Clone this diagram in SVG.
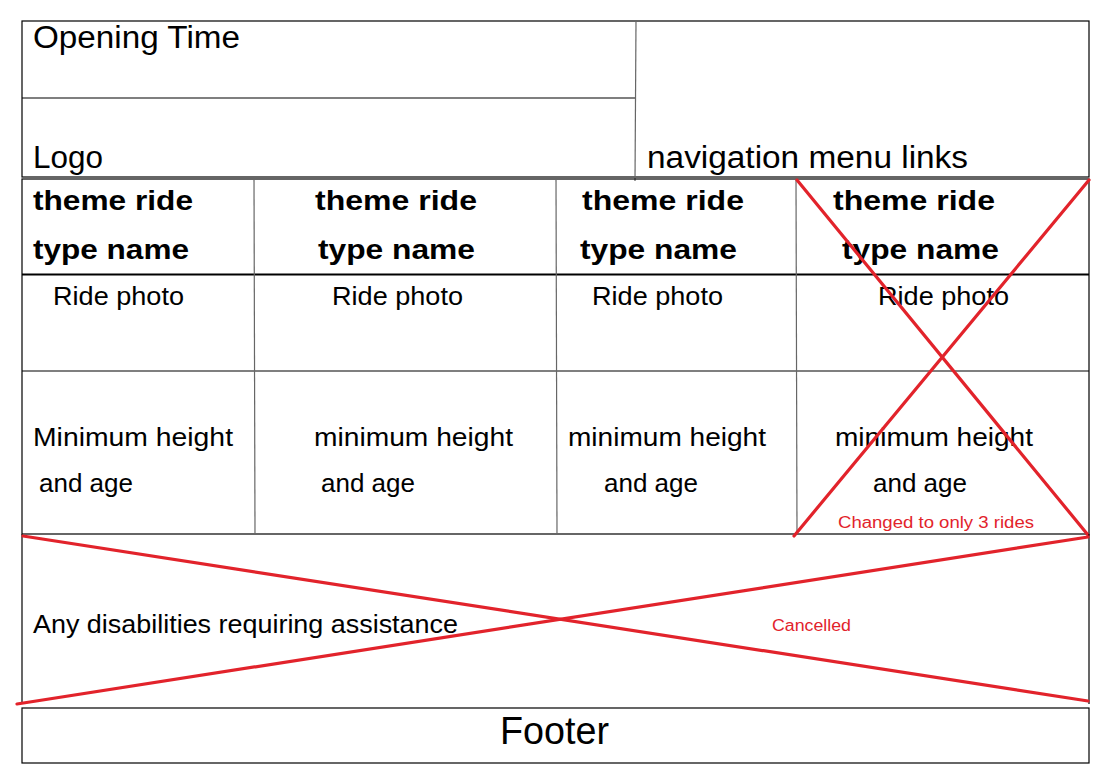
<svg xmlns="http://www.w3.org/2000/svg" width="1109" height="777" viewBox="0 0 1109 777">
<style>
.ln{stroke:#000;stroke-width:1.2;fill:none}
.gl{stroke:#666;stroke-width:1.2;fill:none}
.th{stroke:#000;stroke-width:2.2;fill:none}
.rx{stroke:#e2232b;stroke-width:3.2;fill:none;stroke-linecap:round}
text{font-family:"Liberation Sans",Arial,sans-serif;fill:#000}
.hd{font-size:31px}
.b{font-size:28px;font-weight:bold}
.m{font-size:25px}
.red{font-size:16px;fill:#e2232b}
</style>
<rect width="1109" height="777" fill="#fff"/>
<g id="header">
<rect class="ln" x="22" y="21" width="1067" height="156"/>
<line class="ln" x1="22" y1="98" x2="636" y2="98"/>
<line class="gl" x1="636" y1="21" x2="635" y2="181"/>
<text class="hd" x="33" y="48" textLength="207" lengthAdjust="spacingAndGlyphs">Opening Time</text>
<text class="hd" x="33" y="168" textLength="70" lengthAdjust="spacingAndGlyphs">Logo</text>
<text class="hd" x="647" y="168" textLength="321" lengthAdjust="spacingAndGlyphs">navigation menu links</text>
</g>
<g id="rides">
<rect class="ln" x="22" y="179" width="1067" height="355"/>
<line class="th" x1="22" y1="274.5" x2="1089" y2="274.5"/>
<line class="ln" x1="22" y1="371" x2="1089" y2="371"/>
<line class="gl" x1="254" y1="179" x2="255" y2="534"/>
<line class="gl" x1="556" y1="179" x2="557" y2="534"/>
<line class="gl" x1="796" y1="179" x2="797" y2="534"/>
<text class="b" x="33" y="210" textLength="160" lengthAdjust="spacingAndGlyphs">theme ride</text>
<text class="b" x="33" y="259" textLength="156" lengthAdjust="spacingAndGlyphs">type name</text>
<text class="b" x="315" y="210" textLength="162" lengthAdjust="spacingAndGlyphs">theme ride</text>
<text class="b" x="318" y="259" textLength="157" lengthAdjust="spacingAndGlyphs">type name</text>
<text class="b" x="582" y="210" textLength="162" lengthAdjust="spacingAndGlyphs">theme ride</text>
<text class="b" x="580" y="259" textLength="157" lengthAdjust="spacingAndGlyphs">type name</text>
<text class="b" x="833" y="210" textLength="162" lengthAdjust="spacingAndGlyphs">theme ride</text>
<text class="b" x="842" y="259" textLength="157" lengthAdjust="spacingAndGlyphs">type name</text>
<text class="m" x="53" y="305" textLength="131" lengthAdjust="spacingAndGlyphs">Ride photo</text>
<text class="m" x="332" y="305" textLength="131" lengthAdjust="spacingAndGlyphs">Ride photo</text>
<text class="m" x="592" y="305" textLength="131" lengthAdjust="spacingAndGlyphs">Ride photo</text>
<text class="m" x="878" y="305" textLength="131" lengthAdjust="spacingAndGlyphs">Ride photo</text>
<text class="m" x="33" y="446" textLength="200" lengthAdjust="spacingAndGlyphs">Minimum height</text>
<text class="m" x="39" y="492" textLength="94" lengthAdjust="spacingAndGlyphs">and age</text>
<text class="m" x="314" y="446" textLength="199" lengthAdjust="spacingAndGlyphs">minimum height</text>
<text class="m" x="321" y="492" textLength="94" lengthAdjust="spacingAndGlyphs">and age</text>
<text class="m" x="568" y="446" textLength="198" lengthAdjust="spacingAndGlyphs">minimum height</text>
<text class="m" x="604" y="492" textLength="94" lengthAdjust="spacingAndGlyphs">and age</text>
<text class="m" x="835" y="446" textLength="198" lengthAdjust="spacingAndGlyphs">minimum height</text>
<text class="m" x="873" y="492" textLength="94" lengthAdjust="spacingAndGlyphs">and age</text>
<line class="rx" x1="797" y1="180" x2="1088" y2="535"/>
<line class="rx" x1="1089" y1="180" x2="794" y2="536"/>
<text class="red" x="838" y="528" textLength="196" lengthAdjust="spacingAndGlyphs">Changed to only 3 rides</text>
</g>
<g id="disabilities">
<line class="ln" x1="22" y1="534" x2="22" y2="704"/>
<line class="ln" x1="1089" y1="534" x2="1089" y2="704"/>
<text class="m" x="33" y="633" textLength="425" lengthAdjust="spacingAndGlyphs">Any disabilities requiring assistance</text>
<text class="red" x="772" y="631" textLength="79" lengthAdjust="spacingAndGlyphs">Cancelled</text>
<line class="rx" x1="23" y1="536" x2="1088" y2="701"/>
<line class="rx" x1="17" y1="704" x2="1088" y2="537"/>
</g>
<g id="footer">
<rect class="ln" x="22" y="708" width="1067" height="55"/>
<text x="500" y="744" style="font-size:38px" textLength="109" lengthAdjust="spacingAndGlyphs">Footer</text>
</g>
</svg>
